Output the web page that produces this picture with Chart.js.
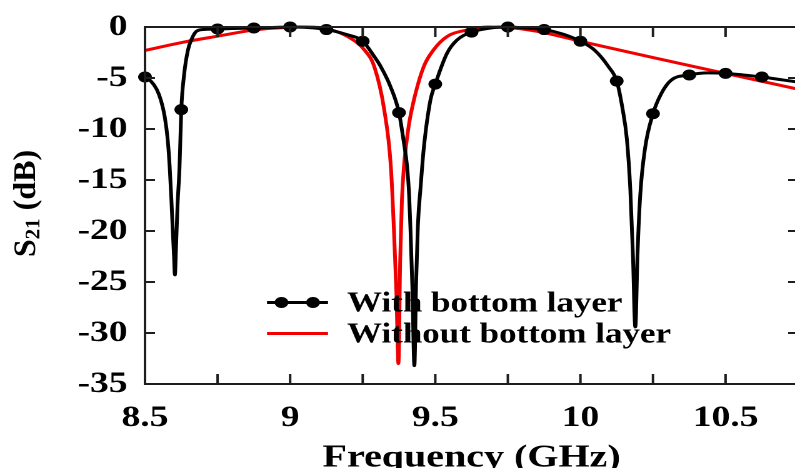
<!DOCTYPE html>
<html>
<head>
<meta charset="utf-8">
<script src="https://cdn.jsdelivr.net/npm/chart.js@4.4.1/dist/chart.umd.min.js"></script>
<style>
  html, body { margin: 0; padding: 0; background: #fff; overflow: hidden; width: 795px; height: 468px; }
  #wrap { width: 644px; height: 468px; transform: scaleX(1.25); transform-origin: 0 0; }
</style>
</head>
<body>
<div id="wrap"><canvas id="s21Chart" width="644" height="468"></canvas></div>
<script>
// S21 vs frequency
const blackFreq = [8.5, 8.52, 8.54, 8.555, 8.568, 8.578, 8.585, 8.591, 8.596, 8.6, 8.603, 8.607, 8.612, 8.619, 8.625,
    8.635, 8.648, 8.662, 8.676, 8.7, 8.75, 8.8, 8.875, 8.94, 9.0, 9.06, 9.125, 9.19, 9.25, 9.29, 9.3125, 9.345, 9.375,
    9.39, 9.403, 9.41, 9.415, 9.421, 9.428, 9.434, 9.44, 9.45, 9.46, 9.483, 9.5, 9.54, 9.574, 9.625, 9.69, 9.75, 9.81,
    9.875, 9.94, 10.0, 10.05, 10.097, 10.125, 10.145, 10.16, 10.172, 10.181, 10.189, 10.197, 10.206, 10.222, 10.25,
    10.279, 10.313, 10.375, 10.44, 10.5, 10.56, 10.625, 10.7, 10.75];
const blackS21 = [-4.9, -5.3, -6.1, -7.2, -8.8, -11.0, -13.7, -17.0, -20.2, -22.5, -24.3, -21.5, -17.5, -13.7, -8.1,
    -4.6, -2.25, -1.1, -0.45, -0.25, -0.2, -0.15, -0.1, -0.05, 0, -0.05, -0.25, -0.7, -1.4, -2.9, -3.9, -5.8, -8.4,
    -11.0, -13.7, -16.5, -20.2, -25.5, -33.2, -25.0, -19.5, -15.5, -12.0, -7.2, -5.6, -2.6, -1.3, -0.5, -0.1, 0, -0.1,
    -0.25, -0.7, -1.4, -2.3, -3.9, -5.3, -8.0, -11.0, -16.0, -22.5, -29.4, -22.0, -16.5, -12.0, -8.5,
    -6.5, -5.2, -4.7, -4.5, -4.55, -4.7, -4.9, -5.2, -5.4];

const redFreq = [8.5, 8.63, 8.75, 8.875, 9.0, 9.06, 9.131, 9.199, 9.256, 9.29, 9.324, 9.347, 9.358, 9.366, 9.373,
    9.379, 9.385, 9.392, 9.408, 9.426, 9.46, 9.494, 9.54, 9.608, 9.68, 9.75, 9.8, 9.875, 10.0, 10.25, 10.5, 10.75];
const redS21 = [-2.3, -1.5, -0.9, -0.3, -0.02, 0, -0.2, -0.95, -2.25, -3.9, -8.1, -13.7, -20.2, -26.0, -33.0,
    -23.0, -17.0, -13.7, -9.8, -7.2, -3.9, -2.25, -0.95, -0.3, 0, -0.05, -0.2, -0.55, -1.4, -3.0, -4.55, -6.1];

const seriesLabels = ['With bottom layer', 'Without bottom layer'];
const xTitle = 'Frequency (GHz)';

const SX = 1.25; // page is stretched horizontally like the original figure
const SERIF = "'Liberation Serif', 'Times New Roman', serif";

function toPoints(xs, ys) {
    return xs.map((x, i) => ({ x: x, y: ys[i] }));
}

function isMarker(f) {
    return Math.abs(f * 8 - Math.round(f * 8)) < 1e-6 && f < 10.7;
}

// frame + inward ticks on all four sides
const framePlugin = {
    id: 'frame',
    afterDatasetsDraw(chart) {
        const ctx = chart.ctx;
        const a = chart.chartArea;
        const xs = chart.scales.x, ys = chart.scales.y;
        ctx.save();
        ctx.strokeStyle = '#1e1e1e';
        ctx.lineWidth = 2;
        ctx.strokeRect(a.left, a.top, a.right - a.left, a.bottom - a.top);
        ctx.beginPath();
        xs.ticks.forEach(t => {
            const px = xs.getPixelForValue(t.value);
            ctx.moveTo(px, a.bottom); ctx.lineTo(px, a.bottom - 10);
            ctx.moveTo(px, a.top); ctx.lineTo(px, a.top + 10);
        });
        ys.ticks.forEach(t => {
            const py = ys.getPixelForValue(t.value);
            ctx.moveTo(a.left, py); ctx.lineTo(a.left + 10 / SX, py);
            ctx.moveTo(a.right, py); ctx.lineTo(a.right - 10 / SX, py);
        });
        ctx.stroke();
        ctx.restore();
    }
};

// y title with subscript, drawn unstretched
const yTitlePlugin = {
    id: 'yTitle',
    afterDraw(chart) {
        const ctx = chart.ctx;
        const a = chart.chartArea;
        ctx.save();
        ctx.scale(1 / SX, 1);
        ctx.translate(27, (a.top + a.bottom) / 2 - 2);
        ctx.rotate(-Math.PI / 2);
        ctx.fillStyle = '#000';
        ctx.textBaseline = 'middle';
        ctx.textAlign = 'left';
        const big = 'bold 32px ' + SERIF, small = 'bold 21px ' + SERIF;
        ctx.font = big; const wS = ctx.measureText('S').width;
        const wRest = ctx.measureText(' (dB)').width;
        ctx.font = small; const wSub = ctx.measureText('21').width;
        let x = -(wS + wSub + wRest) / 2;
        ctx.font = big; ctx.fillText('S', x, 0); x += wS;
        ctx.font = small; ctx.fillText('21', x, 7); x += wSub;
        ctx.font = big; ctx.fillText(' (dB)', x, 0);
        ctx.restore();
    }
};

// legend inside the plot
const legendPlugin = {
    id: 'inLegend',
    afterDraw(chart) {
        const ctx = chart.ctx;
        const ds = chart.data.datasets;
        const x0 = 267 / SX, x1 = 328 / SX, tx = 347 / SX;
        const rows = [302.5, 333.5];
        ctx.save();
        ds.forEach((d, i) => {
            const y = rows[i];
            ctx.strokeStyle = d.borderColor;
            ctx.lineWidth = 3;
            ctx.beginPath(); ctx.moveTo(x0, y); ctx.lineTo(x1, y); ctx.stroke();
            if (i === 0) {
                ctx.fillStyle = d.borderColor;
                [281.5, 313].forEach(px => {
                    ctx.beginPath(); ctx.arc(px / SX, y, 5.5, 0, Math.PI * 2); ctx.fill();
                });
            }
            ctx.fillStyle = '#000';
            ctx.font = 'bold 28px ' + SERIF;
            ctx.textBaseline = 'middle';
            ctx.fillText(d.label, tx, y + 2);
        });
        ctx.restore();
    }
};

new Chart(document.getElementById('s21Chart'), {
    type: 'line',
    data: {
        datasets: [{
            label: seriesLabels[0],
            data: toPoints(blackFreq, blackS21),
            borderColor: '#000',
            backgroundColor: '#000',
            borderWidth: 3,
            cubicInterpolationMode: 'monotone',
            pointRadius: c => isMarker(blackFreq[c.dataIndex]) ? 5.5 : 0,
            pointBorderWidth: 0,
            clip: false
        }, {
            label: seriesLabels[1],
            data: toPoints(redFreq, redS21),
            borderColor: '#f00000',
            backgroundColor: '#f00000',
            borderWidth: 3,
            cubicInterpolationMode: 'monotone',
            pointRadius: 0,
            clip: false
        }]
    },
    options: {
        responsive: false,
        animation: false,
        devicePixelRatio: 2,
        layout: { padding: { left: 0, right: 1, top: 27, bottom: 0 } },
        plugins: { legend: { display: false }, tooltip: { enabled: false } },
        scales: {
            x: {
                type: 'linear',
                min: 8.5,
                max: 10.75,
                grid: { display: false, drawTicks: false },
                border: { display: false },
                ticks: {
                    stepSize: 0.25,
                    autoSkip: false,
                    maxRotation: 0,
                    padding: 16,
                    color: '#000',
                    font: { family: SERIF, size: 30, weight: 'bold', lineHeight: 1.2 },
                    callback: v => Math.abs(v * 2 - Math.round(v * 2)) < 1e-6 && v < 10.7 ? String(+v.toFixed(2)) : ''
                },
                title: {
                    display: true,
                    text: xTitle,
                    color: '#000',
                    padding: 0,
                    font: { family: SERIF, size: 32, weight: 'bold', lineHeight: 0.6 }
                },
                afterFit: s => { s.height = 84; s.paddingLeft = 0; s.paddingRight = 0; }
            },
            y: {
                min: -35,
                max: 0,
                grid: { display: false, drawTicks: false },
                border: { display: false },
                ticks: {
                    stepSize: 5,
                    padding: 14,
                    color: '#000',
                    font: { family: SERIF, size: 30, weight: 'bold' }
                },
                afterFit: s => { s.width = 116; s.paddingTop = 0; s.paddingBottom = 0; }
            }
        }
    },
    plugins: [framePlugin, yTitlePlugin, legendPlugin]
});
</script>
</body>
</html>
